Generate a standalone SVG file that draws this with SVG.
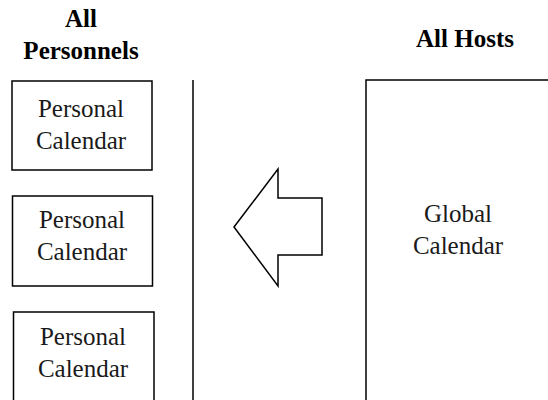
<svg xmlns="http://www.w3.org/2000/svg" width="548" height="400" viewBox="0 0 548 400">
  <style>
    .frame { fill: none; stroke: #000; stroke-width: 1.5; }
    .label { font-family: "Liberation Serif", "Times New Roman", serif; font-size: 25px; fill: #1a1a1a; text-anchor: middle; }
    .head { font-family: "Liberation Serif", "Times New Roman", serif; font-size: 25px; font-weight: bold; fill: #000; text-anchor: middle; }
  </style>
  <rect width="548" height="400" fill="#fff"/>

  <!-- column headings -->
  <g id="heading-personnels">
    <text class="head" x="81" y="27">All</text>
    <text class="head" x="81" y="59">Personnels</text>
  </g>
  <g id="heading-hosts">
    <text class="head" x="465" y="47">All Hosts</text>
  </g>

  <!-- personal calendars -->
  <g id="personal-1">
    <rect class="frame" x="12" y="81" width="140" height="89"/>
    <text class="label" x="81" y="117">Personal</text>
    <text class="label" x="81" y="149">Calendar</text>
  </g>
  <g id="personal-2">
    <rect class="frame" x="12.5" y="196" width="140" height="90"/>
    <text class="label" x="82" y="228">Personal</text>
    <text class="label" x="82" y="260">Calendar</text>
  </g>
  <g id="personal-3">
    <path class="frame" d="M13.5 401 V312 H154 V401"/>
    <text class="label" x="83" y="345">Personal</text>
    <text class="label" x="83" y="377">Calendar</text>
  </g>

  <!-- global calendar, running off the page -->
  <g id="global">
    <path class="frame" d="M366 401 V80 H549"/>
    <text class="label" x="458" y="222">Global</text>
    <text class="label" x="458" y="254">Calendar</text>
  </g>

  <!-- divider and transfer arrow -->
  <g id="connectors">
    <line class="frame" x1="193" y1="80" x2="193" y2="401"/>
    <polygon class="frame" points="234,227 278,169 278,198 322,198 322,255 278,255 278,286"/>
  </g>
</svg>
